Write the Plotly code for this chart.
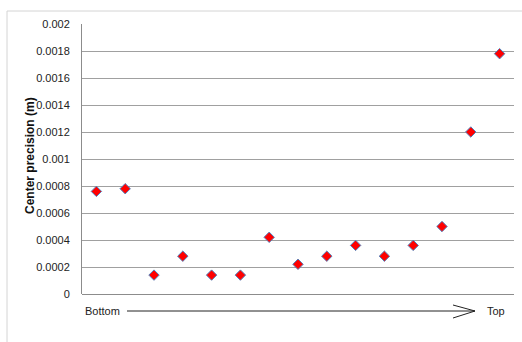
import plotly.graph_objects as go

positions = list(range(1, 16))
precision = [0.00076, 0.00078, 0.00014, 0.00028, 0.00014, 0.00014, 0.00042,
             0.00022, 0.00028, 0.00036, 0.00028, 0.00036, 0.0005, 0.0012, 0.00178]
y_tickvals = [0, 0.0002, 0.0004, 0.0006, 0.0008, 0.001, 0.0012, 0.0014, 0.0016, 0.0018, 0.002]
y_ticktext = ["0", "0.0002", "0.0004", "0.0006", "0.0008", "0.001", "0.0012", "0.0014", "0.0016", "0.0018", "0.002"]
y_title = "Center precision (m)"
left_label = "Bottom"
right_label = "Top"

W, H = 522, 342
L, R, T, B = 82, 8, 24, 48
pw, ph = W - L - R, H - T - B

def px_x(px):
    return (px - L) / pw

def px_y(py):
    return (H - B - py) / ph

fig = go.Figure()
fig.add_trace(go.Scatter(
    x=positions, y=precision, mode="markers",
    marker=dict(symbol="diamond", size=8, color="#ff0000",
                line=dict(color="#4f81bd", width=1)),
    showlegend=False,
))

font = "Liberation Sans, Arial, sans-serif"
fig.update_layout(
    width=W, height=H,
    margin=dict(l=L, r=R, t=T, b=B, autoexpand=False),
    paper_bgcolor="white", plot_bgcolor="white",
    font=dict(family=font, size=11, color="#222222"),
    xaxis=dict(range=[0.5, 15.5], showticklabels=False, showgrid=False,
               zeroline=False, showline=False, ticks=""),
    yaxis=dict(range=[0, 0.002], tickvals=y_tickvals, ticktext=y_ticktext,
               showgrid=True, gridcolor="#a0a0a0", gridwidth=1,
               zeroline=True, zerolinecolor="#8c8c8c", zerolinewidth=1,
               showline=True, linecolor="#8c8c8c", linewidth=1,
               ticks="", ticklabelstandoff=9,
               tickfont=dict(size=11, color="#222222")),
    shapes=[
        # outer chart border
        dict(type="rect", xref="paper", yref="paper",
             x0=px_x(7), x1=px_x(530), y0=px_y(350), y1=px_y(11),
             line=dict(color="#d4d4d4", width=1), layer="below"),
        # arrow line
        dict(type="line", xref="paper", yref="paper",
             x0=px_x(127), x1=px_x(475), y0=px_y(311), y1=px_y(311),
             line=dict(color="#222222", width=1)),
        dict(type="line", xref="paper", yref="paper",
             x0=px_x(453), x1=px_x(475), y0=px_y(305), y1=px_y(311),
             line=dict(color="#222222", width=1)),
        dict(type="line", xref="paper", yref="paper",
             x0=px_x(453), x1=px_x(475), y0=px_y(318), y1=px_y(311),
             line=dict(color="#222222", width=1)),
    ],
    annotations=[
        dict(text=left_label, xref="paper", yref="paper", x=px_x(83), y=px_y(311),
             xanchor="left", yanchor="middle", showarrow=False,
             font=dict(size=11, color="#222222")),
        dict(text=right_label, xref="paper", yref="paper", x=px_x(485), y=px_y(311),
             xanchor="left", yanchor="middle", showarrow=False,
             font=dict(size=11, color="#222222")),
        dict(text="<b>" + y_title + "</b>", xref="paper", yref="paper",
             x=px_x(30), y=px_y(156), xanchor="center", yanchor="middle",
             textangle=-90, showarrow=False,
             font=dict(size=12, color="#111111")),
    ],
)

fig.write_html("out.html")
